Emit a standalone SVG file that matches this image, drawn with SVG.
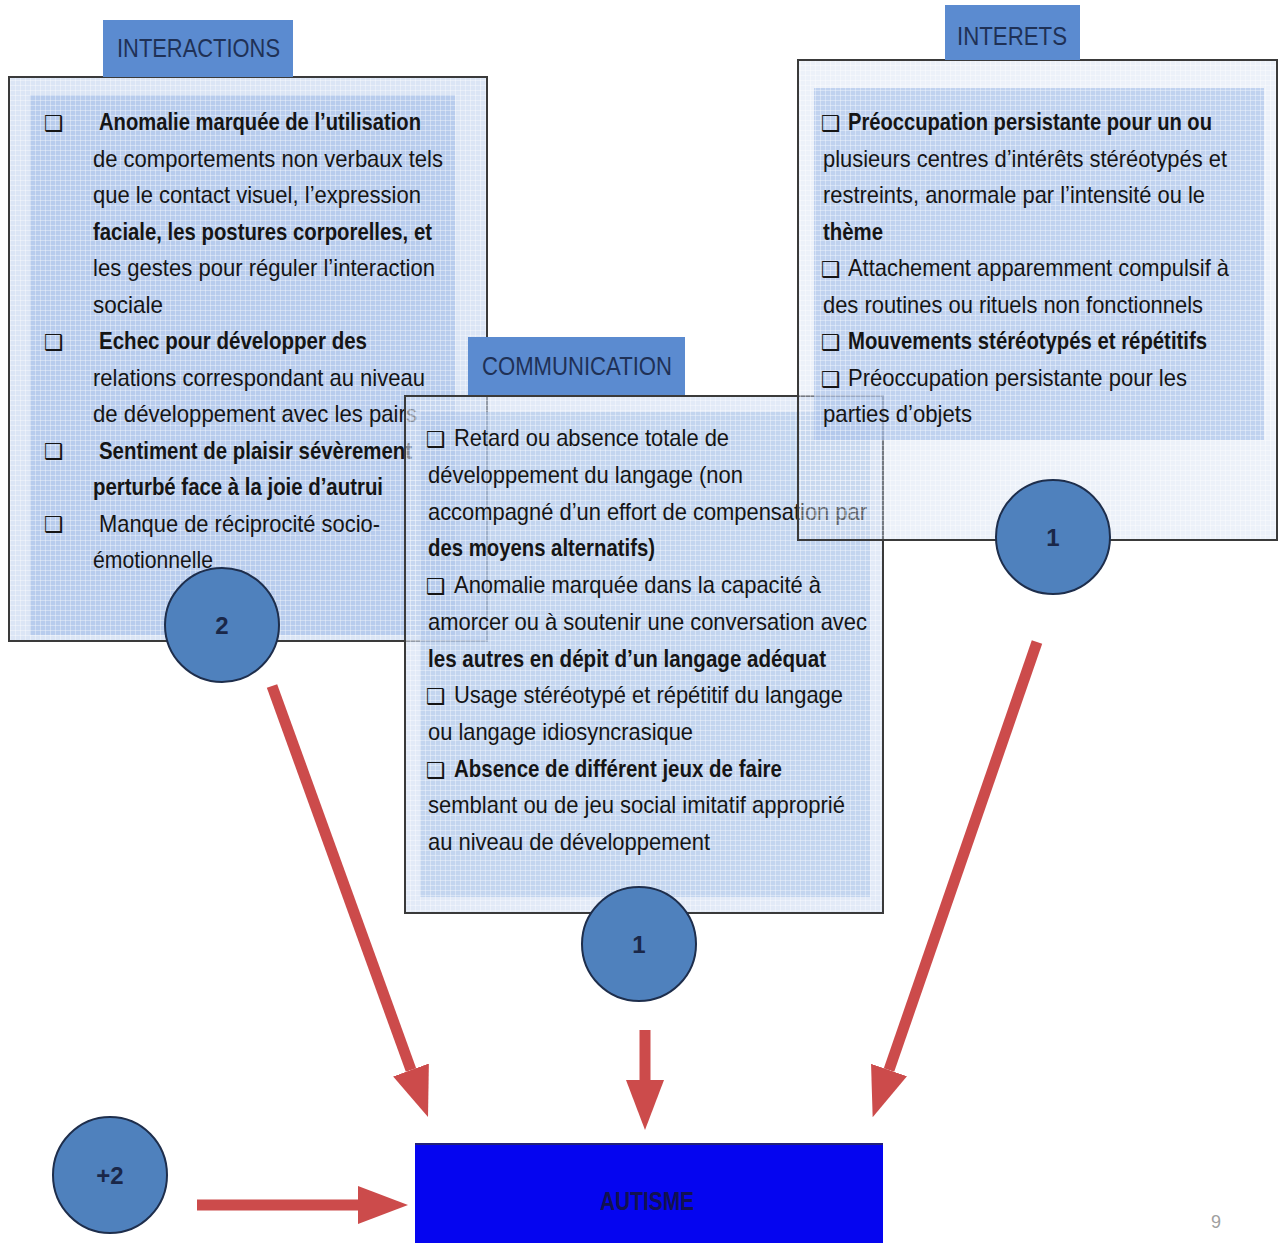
<svg xmlns="http://www.w3.org/2000/svg" width="1282" height="1243" viewBox="0 0 1282 1243">
<defs>
<pattern id="grid" width="5" height="5" patternUnits="userSpaceOnUse">
<path d="M0,0.5 H5 M0.5,0 V5" stroke="#ffffff" stroke-width="1" stroke-opacity="0.35" fill="none"/>
</pattern>
<marker id="head" markerUnits="userSpaceOnUse" markerWidth="50" markerHeight="40" viewBox="0 -20 50 40" refX="0" refY="0" orient="auto">
<path d="M0,-19 L50,0 L0,19 Z" fill="#cc4b4b"/>
</marker>
<style>
.outer{fill:#cfdcf1;fill-opacity:0.75}
.inner{fill:#a9c2e9;fill-opacity:0.7}
.gridr{fill:url(#grid)}
.border{fill:none;stroke:#3a3a3a;stroke-width:2}
.tab{fill:#5b8bd0}
.tabt{font-family:"Liberation Sans",Arial,sans-serif;font-size:25px;fill:#1f3156}
.t{font-family:"Liberation Sans",Arial,sans-serif;font-size:24px;fill:#151515}
.b{font-weight:bold}
.bul{font-family:"DejaVu Sans",sans-serif;font-size:22px;font-weight:normal;fill:#151515}
.circ{fill:#4f81bd;stroke:#1e2e4c;stroke-width:2}
.ct{font-family:"Liberation Sans",Arial,sans-serif;font-size:24px;font-weight:bold;fill:#1a2748;text-anchor:middle}
.arrow{stroke:#cc4b4b;stroke-width:11;fill:none;marker-end:url(#head)}
</style>
</defs>

<g id="interactions">
<rect class="outer" x="9" y="77" width="478" height="564"/>
<rect class="inner" x="30" y="95" width="425" height="540"/>
<rect class="gridr" x="9" y="77" width="478" height="564"/>
<rect class="border" x="9" y="77" width="478" height="564"/>
<rect class="tab" x="103" y="20" width="190" height="57"/>
<text class="tabt" x="117" y="57" textLength="163" lengthAdjust="spacingAndGlyphs">INTERACTIONS</text>
<text class="t b" x="44" y="130"><tspan class="bul" y="131">❑</tspan><tspan x="99" y="130" textLength="322" lengthAdjust="spacingAndGlyphs">Anomalie marquée de l’utilisation</tspan></text>
<text class="t" x="93" y="166.5" textLength="350" lengthAdjust="spacingAndGlyphs">de comportements non verbaux tels</text>
<text class="t" x="93" y="203" textLength="328" lengthAdjust="spacingAndGlyphs">que le contact visuel, l’expression</text>
<text class="t b" x="93" y="239.5" textLength="339" lengthAdjust="spacingAndGlyphs">faciale, les postures corporelles, et</text>
<text class="t" x="93" y="276" textLength="342" lengthAdjust="spacingAndGlyphs">les gestes pour réguler l’interaction</text>
<text class="t" x="93" y="312.5" textLength="70" lengthAdjust="spacingAndGlyphs">sociale</text>
<text class="t b" x="44" y="349"><tspan class="bul" y="350">❑</tspan><tspan x="99" y="349" textLength="268" lengthAdjust="spacingAndGlyphs">Echec pour développer des</tspan></text>
<text class="t" x="93" y="385.5" textLength="332" lengthAdjust="spacingAndGlyphs">relations correspondant au niveau</text>
<text class="t" x="93" y="422" textLength="324" lengthAdjust="spacingAndGlyphs">de développement avec les pairs</text>
<text class="t b" x="44" y="458.5"><tspan class="bul" y="459">❑</tspan><tspan x="99" y="458.5" textLength="313" lengthAdjust="spacingAndGlyphs">Sentiment de plaisir sévèrement</tspan></text>
<text class="t b" x="93" y="495" textLength="290" lengthAdjust="spacingAndGlyphs">perturbé face à la joie d’autrui</text>
<text class="t" x="44" y="531.5"><tspan class="bul" y="532">❑</tspan><tspan x="99" y="531.5" textLength="281" lengthAdjust="spacingAndGlyphs">Manque de réciprocité socio-</tspan></text>
<text class="t" x="93" y="568" textLength="120" lengthAdjust="spacingAndGlyphs">émotionnelle</text>
</g>

<g id="communication">
<rect class="outer" x="405" y="396" width="478" height="517" style="fill-opacity:0.6"/>
<rect class="inner" x="420" y="412" width="450" height="485" style="fill-opacity:0.55"/>
<rect class="gridr" x="405" y="396" width="478" height="517"/>
<rect class="border" x="405" y="396" width="478" height="517"/>
<rect class="tab" x="468" y="337" width="217" height="58"/>
<text class="tabt" x="482" y="375" textLength="190" lengthAdjust="spacingAndGlyphs">COMMUNICATION</text>
<text class="t" x="426" y="446"><tspan class="bul" y="447">❑</tspan><tspan x="454" y="446" textLength="275" lengthAdjust="spacingAndGlyphs">Retard ou absence totale de</tspan></text>
<text class="t" x="428" y="483" textLength="315" lengthAdjust="spacingAndGlyphs">développement du langage (non</text>
<text class="t" x="428" y="520" textLength="439" lengthAdjust="spacingAndGlyphs">accompagné d’un effort de compensation par</text>
<text class="t b" x="428" y="556" textLength="227" lengthAdjust="spacingAndGlyphs">des moyens alternatifs)</text>
<text class="t" x="426" y="593"><tspan class="bul" y="594">❑</tspan><tspan x="454" y="593" textLength="367" lengthAdjust="spacingAndGlyphs">Anomalie marquée dans la capacité à</tspan></text>
<text class="t" x="428" y="630" textLength="439" lengthAdjust="spacingAndGlyphs">amorcer ou à soutenir une conversation avec</text>
<text class="t b" x="428" y="667" textLength="398" lengthAdjust="spacingAndGlyphs">les autres en dépit d’un langage adéquat</text>
<text class="t" x="426" y="703"><tspan class="bul" y="704">❑</tspan><tspan x="454" y="703" textLength="389" lengthAdjust="spacingAndGlyphs">Usage stéréotypé et répétitif du langage</tspan></text>
<text class="t" x="428" y="740" textLength="265" lengthAdjust="spacingAndGlyphs">ou langage idiosyncrasique</text>
<text class="t b" x="426" y="777"><tspan class="bul" y="778">❑</tspan><tspan x="454" y="777" textLength="328" lengthAdjust="spacingAndGlyphs">Absence de différent jeux de faire</tspan></text>
<text class="t" x="428" y="813" textLength="417" lengthAdjust="spacingAndGlyphs">semblant ou de jeu social imitatif approprié</text>
<text class="t" x="428" y="850" textLength="282" lengthAdjust="spacingAndGlyphs">au niveau de développement</text>
</g>

<g id="interets">
<rect class="outer" x="798" y="60" width="479" height="480" style="fill-opacity:0.4"/>
<rect class="inner" x="814" y="88" width="450" height="352" style="fill-opacity:0.65"/>
<rect class="gridr" x="798" y="60" width="479" height="480"/>
<rect class="border" x="798" y="60" width="479" height="480"/>
<rect class="tab" x="945" y="5" width="135" height="55"/>
<text class="tabt" x="957" y="45" textLength="110" lengthAdjust="spacingAndGlyphs">INTERETS</text>
<text class="t b" x="821" y="130"><tspan class="bul" y="131">❑</tspan><tspan x="848" y="130" textLength="364" lengthAdjust="spacingAndGlyphs">Préoccupation persistante pour un ou</tspan></text>
<text class="t" x="823" y="166.5" textLength="404" lengthAdjust="spacingAndGlyphs">plusieurs centres d’intérêts stéréotypés et</text>
<text class="t" x="823" y="203" textLength="382" lengthAdjust="spacingAndGlyphs">restreints, anormale par l’intensité ou le</text>
<text class="t b" x="823" y="239.5" textLength="60" lengthAdjust="spacingAndGlyphs">thème</text>
<text class="t" x="821" y="276"><tspan class="bul" y="277">❑</tspan><tspan x="848" y="276" textLength="381" lengthAdjust="spacingAndGlyphs">Attachement apparemment compulsif à</tspan></text>
<text class="t" x="823" y="312.5" textLength="380" lengthAdjust="spacingAndGlyphs">des routines ou rituels non fonctionnels</text>
<text class="t b" x="821" y="349"><tspan class="bul" y="350">❑</tspan><tspan x="848" y="349" textLength="359" lengthAdjust="spacingAndGlyphs">Mouvements stéréotypés et répétitifs</tspan></text>
<text class="t" x="821" y="385.5"><tspan class="bul" y="386.5">❑</tspan><tspan x="848" y="385.5" textLength="339" lengthAdjust="spacingAndGlyphs">Préoccupation persistante pour les</tspan></text>
<text class="t" x="823" y="422" textLength="149" lengthAdjust="spacingAndGlyphs">parties d’objets</text>
</g>

<g id="connectors">
<line class="arrow" x1="272" y1="686" x2="411" y2="1070"/>
<line class="arrow" x1="645" y1="1030" x2="645" y2="1080"/>
<line class="arrow" x1="1037" y1="642" x2="889" y2="1070"/>
<line class="arrow" x1="197" y1="1205" x2="358" y2="1205"/>
</g>

<g id="circle-2">
<circle class="circ" cx="222" cy="625" r="57"/>
<text class="ct" x="222" y="634">2</text>
</g>
<g id="circle-1-right">
<circle class="circ" cx="1053" cy="537" r="57"/>
<text class="ct" x="1053" y="546">1</text>
</g>
<g id="circle-1-middle">
<circle class="circ" cx="639" cy="944" r="57"/>
<text class="ct" x="639" y="953">1</text>
</g>
<g id="circle-plus2">
<ellipse class="circ" cx="110" cy="1175" rx="57" ry="58"/>
<text class="ct" x="110" y="1184">+2</text>
</g>

<g id="autisme">
<rect x="415" y="1143" width="468" height="102" fill="#0505f0"/>
<line x1="415" y1="1144" x2="883" y2="1144" stroke="#22227a" stroke-width="2"/>
<text x="600" y="1210" textLength="94" lengthAdjust="spacingAndGlyphs" font-family="Liberation Sans, Arial, sans-serif" font-size="26" font-weight="bold" fill="#121250">AUTISME</text>
</g>

<text x="1211" y="1228" font-family="Liberation Sans, Arial, sans-serif" font-size="18" fill="#a0a0a0">9</text>
</svg>
